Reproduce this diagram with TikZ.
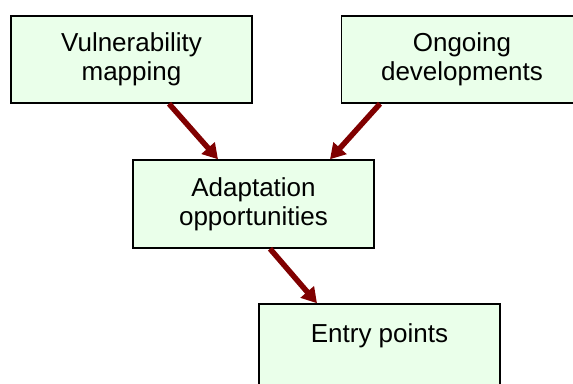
\documentclass[tikz,border=0pt]{standalone}
\usepackage{fontspec}
\setmainfont{Liberation Sans}
\usetikzlibrary{arrows.meta}
\definecolor{boxfill}{RGB}{234,255,234}
\definecolor{flowred}{RGB}{128,0,0}
\begin{document}
\begin{tikzpicture}[x=1pt,y=1pt,
  stage/.style={draw=black, line width=1.5pt, fill=boxfill, rectangle,
    minimum width=241pt, minimum height=87pt, inner sep=0pt,
    align=center, font=\fontsize{26}{29}\selectfont},
  flow/.style={draw=flowred, line width=5.5pt,
    -{Triangle[length=15pt,width=17pt]}}]
\useasboundingbox (0,0) rectangle (573,-383);
\clip (0,0) rectangle (573,-383);
\fill[white] (0,0) rectangle (573,-383);

% the four stages
\node[stage] (vul) at (131.5,-59.5) {Vulnerability\\mapping};
\node[stage] (ong) at (462,-59.5) {Ongoing\\developments};
\node[stage, minimum height=88pt] (ada) at (253.5,-204) {Adaptation\\opportunities};
\node[stage, minimum height=88pt] (ent) at (379.5,-348) {Entry points\\\mbox{}};

% flow between stages
\draw[flow] ([xshift=37.5pt]vul.south) -- ([xshift=-35.5pt]ada.north);
\draw[flow] ([xshift=-82pt]ong.south) -- ([xshift=76.5pt]ada.north);
\draw[flow] ([xshift=16.5pt]ada.south) -- ([xshift=-62.5pt]ent.north);
\end{tikzpicture}
\end{document}
